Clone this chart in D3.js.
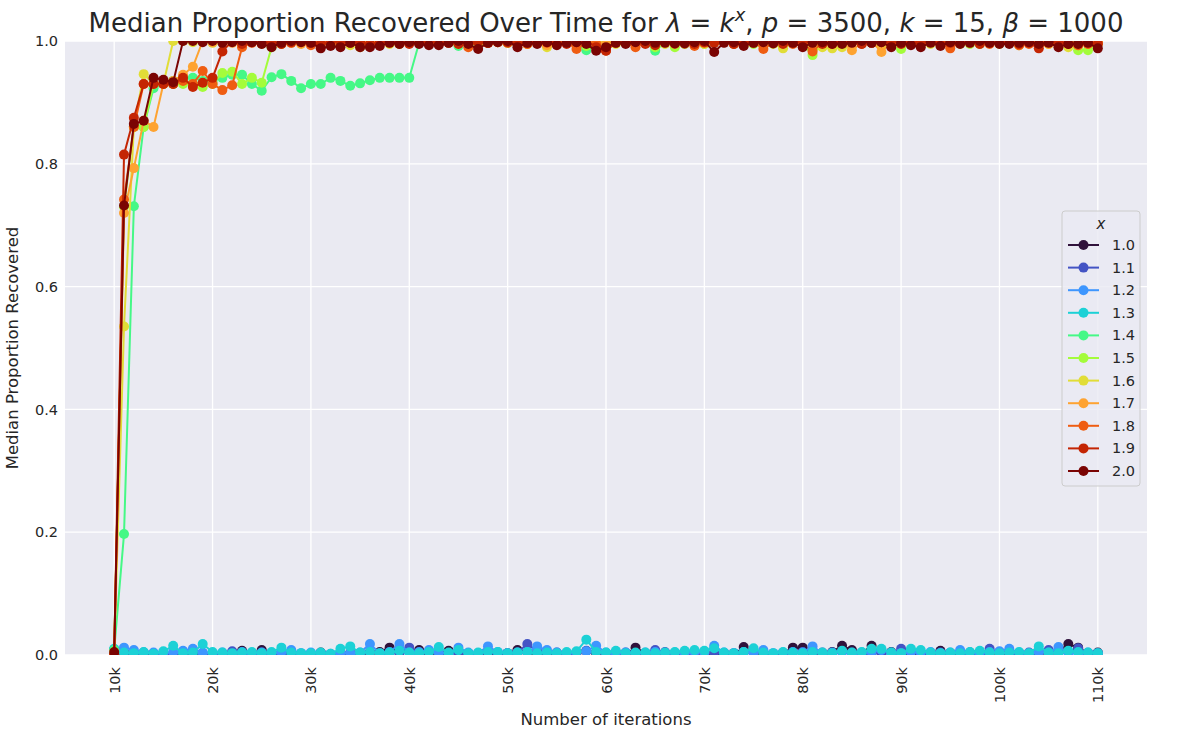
<!DOCTYPE html>
<html>
<head>
<meta charset="utf-8">
<script src="https://cdn.jsdelivr.net/npm/d3@7"></script>
<style>
  body { margin: 0; background: #fff; }
  text { font-family: "DejaVu Sans", sans-serif; fill: #262626; }
</style>
</head>
<body>
<div id="content"></div>
<script>
// iterations 10k..110k, one point every 1k
let iterations = d3.range(10000, 111000, 1000);
let xTicks = [10000, 20000, 30000, 40000, 50000, 60000, 70000, 80000, 90000, 100000, 110000];
let xTickLabels = ["10k", "20k", "30k", "40k", "50k", "60k", "70k", "80k", "90k", "100k", "110k"];
let yTicks = [0, 0.2, 0.4, 0.6, 0.8, 1.0];

let exponents = ["1.0", "1.1", "1.2", "1.3", "1.4", "1.5", "1.6", "1.7", "1.8", "1.9", "2.0"];
let colors = ["#30123b", "#4454c4", "#3e96fe", "#1cd1d6", "#45f886", "#a4fc3b",
              "#e1dd37", "#fea331", "#ef5d12", "#c42503", "#7a0403"];

let s10 = [0.008, 0.004, 0.002, 0.003, 0.000, 0.002, 0.001, 0.003, 0.002, 0.000,
  0.002, 0.001, 0.003, 0.007, 0.003, 0.008, 0.002, 0.004, 0.003, 0.002,
  0.000, 0.004, 0.001, 0.002, 0.003, 0.000, 0.004, 0.005, 0.012, 0.004,
  0.006, 0.008, 0.003, 0.002, 0.007, 0.003, 0.002, 0.001, 0.003, 0.000,
  0.003, 0.008, 0.004, 0.002, 0.000, 0.003, 0.002, 0.004, 0.006, 0.003,
  0.002, 0.004, 0.000, 0.012, 0.003, 0.004, 0.002, 0.000, 0.003, 0.002,
  0.004, 0.002, 0.003, 0.000, 0.013, 0.004, 0.002, 0.000, 0.003, 0.012,
  0.012, 0.003, 0.002, 0.005, 0.015, 0.008, 0.003, 0.015, 0.004, 0.005,
  0.003, 0.002, 0.004, 0.000, 0.007, 0.003, 0.002, 0.004, 0.003, 0.002,
  0.005, 0.002, 0.003, 0.000, 0.004, 0.003, 0.006, 0.018, 0.012, 0.003, 0.004];
let s11 = [0.006, 0.003, 0.002, 0.004, 0.001, 0.003, 0.000, 0.004, 0.002, 0.003,
  0.001, 0.002, 0.006, 0.003, 0.002, 0.004, 0.001, 0.003, 0.002, 0.000,
  0.002, 0.003, 0.000, 0.004, 0.002, 0.003, 0.005, 0.002, 0.003, 0.004,
  0.012, 0.003, 0.004, 0.002, 0.003, 0.004, 0.003, 0.002, 0.004, 0.002,
  0.003, 0.004, 0.018, 0.006, 0.003, 0.004, 0.002, 0.003, 0.007, 0.004,
  0.003, 0.002, 0.004, 0.003, 0.002, 0.008, 0.005, 0.003, 0.002, 0.004,
  0.003, 0.004, 0.002, 0.003, 0.004, 0.005, 0.003, 0.002, 0.003, 0.004,
  0.005, 0.003, 0.004, 0.003, 0.005, 0.004, 0.002, 0.003, 0.004, 0.003,
  0.010, 0.004, 0.003, 0.002, 0.004, 0.003, 0.004, 0.003, 0.002, 0.010,
  0.004, 0.003, 0.002, 0.004, 0.003, 0.008, 0.004, 0.005, 0.011, 0.003, 0.002];
let s12 = [0.009, 0.012, 0.008, 0.004, 0.004, 0.003, 0.005, 0.007, 0.010, 0.004,
  0.003, 0.004, 0.002, 0.005, 0.003, 0.004, 0.003, 0.005, 0.008, 0.003,
  0.004, 0.003, 0.002, 0.004, 0.003, 0.004, 0.018, 0.003, 0.005, 0.018,
  0.004, 0.005, 0.008, 0.004, 0.003, 0.012, 0.004, 0.003, 0.014, 0.005,
  0.003, 0.004, 0.005, 0.014, 0.008, 0.004, 0.003, 0.005, 0.006, 0.015,
  0.004, 0.003, 0.004, 0.003, 0.004, 0.005, 0.003, 0.004, 0.003, 0.005,
  0.004, 0.015, 0.004, 0.003, 0.005, 0.004, 0.008, 0.003, 0.004, 0.005,
  0.004, 0.014, 0.003, 0.004, 0.005, 0.003, 0.004, 0.005, 0.008, 0.004,
  0.003, 0.005, 0.004, 0.005, 0.003, 0.004, 0.008, 0.004, 0.003, 0.005,
  0.006, 0.010, 0.004, 0.003, 0.005, 0.004, 0.013, 0.004, 0.003, 0.004, 0.003];
let s13 = [0.010, 0.004, 0.003, 0.005, 0.002, 0.006, 0.015, 0.003, 0.004, 0.018,
  0.005, 0.004, 0.003, 0.004, 0.005, 0.003, 0.005, 0.012, 0.004, 0.003,
  0.003, 0.004, 0.002, 0.010, 0.014, 0.004, 0.005, 0.003, 0.004, 0.007,
  0.004, 0.003, 0.005, 0.013, 0.004, 0.008, 0.003, 0.004, 0.005, 0.005,
  0.003, 0.004, 0.005, 0.003, 0.004, 0.003, 0.005, 0.006, 0.025, 0.005,
  0.004, 0.007, 0.003, 0.004, 0.004, 0.003, 0.004, 0.005, 0.007, 0.008,
  0.007, 0.011, 0.004, 0.003, 0.005, 0.011, 0.004, 0.003, 0.005, 0.004,
  0.003, 0.005, 0.004, 0.003, 0.007, 0.004, 0.005, 0.010, 0.010, 0.004,
  0.003, 0.010, 0.008, 0.004, 0.003, 0.004, 0.003, 0.005, 0.007, 0.004,
  0.003, 0.004, 0.005, 0.003, 0.014, 0.004, 0.003, 0.007, 0.005, 0.004, 0.003];
let s14 = [0.008, 0.197, 0.731, 0.860, 0.923, 0.930, 0.935, 0.940, 0.940, 0.935,
  0.935, 0.940, 0.945, 0.945, 0.930, 0.919, 0.941, 0.946, 0.935, 0.923,
  0.930, 0.930, 0.940, 0.935, 0.927, 0.931, 0.936, 0.940, 0.940, 0.940,
  0.940, 0.997, 0.998, 1.000, 0.998, 0.992, 0.998, 1.000, 0.998, 1.000,
  0.998, 1.000, 0.998, 0.997, 1.000, 0.998, 0.997, 0.995, 0.985, 0.998,
  1.000, 0.998, 1.000, 0.997, 0.998, 0.984, 0.998, 0.997, 0.995, 0.998,
  0.997, 0.998, 1.000, 0.997, 0.998, 1.000, 0.997, 0.998, 0.997, 0.998,
  1.000, 0.995, 0.998, 0.997, 0.998, 1.000, 0.997, 0.998, 1.000, 0.997,
  0.998, 0.995, 0.998, 1.000, 0.997, 0.998, 1.000, 0.997, 0.995, 0.998,
  1.000, 0.997, 0.998, 1.000, 0.997, 0.998, 0.997, 1.000, 0.998, 0.995, 0.998];
let s15 = [0.005, 0.730, 0.860, 0.860, 0.930, 0.930, 0.930, 0.930, 0.930, 0.925,
  0.930, 0.948, 0.950, 0.930, 0.940, 0.932, 0.990, 0.995, 0.998, 1.000,
  0.997, 0.998, 1.000, 0.995, 0.998, 0.997, 1.000, 0.998, 0.997, 0.995,
  0.998, 1.000, 0.997, 0.998, 1.000, 0.997, 0.998, 0.995, 0.998, 1.000,
  0.997, 0.998, 0.995, 0.998, 1.000, 0.997, 0.998, 0.995, 0.992, 0.998,
  1.000, 0.997, 0.998, 1.000, 0.997, 0.990, 0.998, 0.990, 0.997, 0.998,
  0.995, 0.998, 1.000, 0.997, 0.998, 0.995, 0.998, 0.997, 1.000, 0.998,
  0.995, 0.977, 0.997, 0.998, 0.995, 0.998, 1.000, 0.997, 0.995, 0.998,
  0.987, 0.998, 0.995, 0.998, 1.000, 0.997, 0.998, 0.995, 0.998, 1.000,
  0.997, 0.998, 0.995, 0.997, 1.000, 0.998, 0.997, 0.995, 0.985, 0.985, 0.997];
let s16 = [0.005, 0.535, 0.860, 0.946, 0.930, 0.930, 1.000, 1.000, 0.998, 1.000,
  0.997, 0.998, 1.000, 0.995, 0.998, 1.000, 0.997, 0.998, 1.000, 0.997,
  0.998, 0.995, 0.997, 1.000, 0.993, 0.990, 0.998, 1.000, 0.995, 0.997,
  0.998, 1.000, 0.997, 0.998, 1.000, 0.995, 0.998, 1.000, 0.997, 0.998,
  1.000, 0.995, 0.998, 0.997, 0.990, 0.998, 1.000, 0.995, 0.997, 0.998,
  1.000, 0.995, 0.997, 0.998, 1.000, 0.997, 0.995, 0.998, 1.000, 0.997,
  0.995, 0.998, 1.000, 0.997, 0.993, 0.998, 1.000, 0.995, 0.988, 0.997,
  0.998, 0.995, 0.990, 0.988, 0.990, 0.998, 0.997, 1.000, 0.995, 0.998,
  0.997, 0.998, 1.000, 0.995, 0.998, 0.997, 0.995, 0.998, 1.000, 0.997,
  0.995, 0.998, 0.993, 1.000, 0.997, 0.995, 0.998, 0.990, 0.993, 0.997, 0.995];
let s17 = [0.000, 0.720, 0.793, 0.870, 0.860, 0.930, 0.935, 0.945, 0.958, 1.000,
  0.998, 1.000, 0.997, 0.998, 1.000, 0.995, 0.998, 1.000, 0.997, 0.995,
  0.998, 1.000, 0.997, 0.995, 0.998, 0.997, 1.000, 0.995, 0.998, 1.000,
  0.997, 0.998, 0.995, 1.000, 0.997, 0.998, 0.995, 1.000, 0.997, 0.998,
  1.000, 0.997, 0.995, 0.998, 0.993, 0.995, 0.998, 1.000, 0.997, 0.998,
  0.995, 1.000, 0.997, 0.995, 0.998, 1.000, 0.997, 0.998, 0.995, 0.993,
  1.000, 0.997, 0.998, 0.995, 0.997, 1.000, 0.995, 0.998, 0.997, 1.000,
  0.995, 0.998, 0.997, 0.995, 0.998, 0.985, 0.997, 1.000, 0.982, 0.998,
  0.995, 0.997, 1.000, 0.998, 0.995, 0.997, 1.000, 0.998, 0.995, 0.997,
  1.000, 0.998, 0.995, 0.997, 1.000, 0.995, 0.998, 0.997, 0.993, 0.995, 0.998];
let s18 = [0.000, 0.742, 0.860, 0.930, 0.930, 0.930, 0.930, 0.935, 0.930, 0.951,
  0.930, 0.920, 0.928, 0.990, 0.997, 0.998, 1.000, 0.995, 0.997, 0.998,
  0.993, 0.997, 1.000, 0.995, 0.998, 0.997, 0.995, 1.000, 0.997, 0.995,
  0.998, 1.000, 0.997, 0.995, 0.998, 0.997, 0.990, 1.000, 0.997, 0.998,
  0.997, 1.000, 0.995, 0.998, 0.997, 0.995, 0.998, 0.987, 0.997, 0.995,
  0.984, 0.998, 0.997, 0.990, 0.998, 0.997, 1.000, 0.995, 0.998, 0.992,
  0.997, 1.000, 0.998, 0.995, 0.997, 0.998, 0.987, 0.997, 1.000, 0.995,
  0.997, 0.983, 0.998, 0.995, 0.997, 1.000, 0.995, 0.997, 0.998, 0.995,
  0.997, 1.000, 0.995, 0.998, 0.997, 0.988, 0.998, 0.997, 1.000, 0.995,
  0.997, 0.998, 0.993, 0.995, 0.997, 1.000, 0.995, 0.998, 0.993, 0.995, 0.997];
let s19 = [0.000, 0.815, 0.875, 0.930, 0.930, 0.930, 0.930, 0.940, 0.925, 0.932,
  0.940, 0.983, 1.000, 0.995, 0.998, 1.000, 0.997, 0.995, 0.998, 1.000,
  0.997, 0.995, 0.998, 1.000, 0.997, 0.998, 0.995, 0.997, 1.000, 0.998,
  0.995, 0.997, 1.000, 0.998, 0.997, 0.995, 1.000, 0.998, 0.997, 1.000,
  0.998, 0.995, 0.997, 1.000, 0.998, 0.997, 0.995, 0.998, 1.000, 0.990,
  0.984, 0.997, 0.998, 1.000, 0.995, 0.993, 0.998, 0.997, 1.000, 0.995,
  0.998, 0.997, 1.000, 0.995, 0.998, 0.997, 1.000, 0.998, 0.995, 0.997,
  1.000, 0.998, 0.995, 0.997, 1.000, 0.998, 0.995, 0.997, 0.998, 1.000,
  0.995, 0.997, 0.998, 1.000, 0.995, 0.997, 0.998, 1.000, 0.995, 0.997,
  0.998, 1.000, 0.995, 0.997, 0.988, 0.998, 1.000, 0.995, 0.997, 0.998, 0.995];
let s20 = [0.005, 0.732, 0.865, 0.870, 0.940, 0.937, 0.933, 1.000, 1.000, 0.998,
  1.000, 0.997, 0.998, 1.000, 0.998, 0.995, 0.990, 0.997, 1.000, 0.998,
  0.997, 0.988, 0.992, 0.990, 0.997, 0.990, 0.990, 0.992, 0.997, 0.995,
  0.998, 0.995, 0.993, 0.993, 0.997, 1.000, 0.995, 0.987, 0.997, 0.998,
  1.000, 0.990, 0.997, 0.995, 0.998, 0.993, 0.997, 0.998, 0.995, 0.984,
  0.990, 0.997, 0.995, 0.998, 1.000, 0.997, 0.997, 0.996, 0.996, 0.998,
  1.000, 0.982, 0.997, 0.998, 0.992, 0.997, 0.998, 0.996, 1.000, 0.997,
  0.990, 0.997, 0.998, 0.995, 0.995, 0.997, 1.000, 0.997, 0.998, 0.990,
  0.997, 0.993, 0.990, 0.997, 0.992, 0.998, 0.995, 0.997, 1.000, 0.997,
  0.995, 0.995, 0.997, 0.998, 0.995, 0.997, 0.990, 0.995, 0.995, 0.997, 0.988];

let seriesValues = [s10, s11, s12, s13, s14, s15, s16, s17, s18, s19, s20];

let width = 1177;
let height = 732;
let margin = {top: 41, right: 30, bottom: 77, left: 65};
let plotW = width - margin.left - margin.right;
let plotH = height - margin.top - margin.bottom;

let svg = d3.select("#content").append("svg")
  .attr("width", width)
  .attr("height", height);

let x = d3.scaleLinear().domain([5000, 115000]).range([0, plotW]);
let y = d3.scaleLinear().domain([0, 1]).range([plotH, 0]);

let g = svg.append("g").attr("transform", `translate(${margin.left},${margin.top})`);

g.append("rect")
  .attr("width", plotW).attr("height", plotH)
  .attr("fill", "#eaeaf2");

svg.append("defs").append("clipPath").attr("id", "plot-clip")
  .append("rect").attr("width", plotW).attr("height", plotH);

// grid
g.selectAll(".vgrid").data(xTicks).enter().append("line")
  .attr("x1", d => x(d)).attr("x2", d => x(d))
  .attr("y1", 0).attr("y2", plotH)
  .attr("stroke", "#fff").attr("stroke-width", 1.3);
g.selectAll(".hgrid").data(yTicks).enter().append("line")
  .attr("x1", 0).attr("x2", plotW)
  .attr("y1", d => y(d)).attr("y2", d => y(d))
  .attr("stroke", "#fff").attr("stroke-width", 1.3);

// axes (no spines, no tick marks, like seaborn darkgrid)
let xAxis = g.append("g").attr("transform", `translate(0,${plotH})`)
  .call(d3.axisBottom(x).tickValues(xTicks).tickSize(0).tickFormat((d, i) => xTickLabels[i]));
xAxis.select(".domain").remove();
xAxis.selectAll("text")
  .attr("transform", "rotate(-90)")
  .attr("x", -12).attr("y", 0).attr("dy", "0.35em")
  .style("text-anchor", "end")
  .style("font-size", "14.5px")
  .style("font-family", "DejaVu Sans").attr("fill", "#262626");

let yAxis = g.append("g")
  .call(d3.axisLeft(y).tickValues(yTicks).tickSize(0).tickFormat(d3.format(".1f")));
yAxis.select(".domain").remove();
yAxis.selectAll("text")
  .attr("x", -7)
  .style("font-size", "14.5px")
  .style("font-family", "DejaVu Sans").attr("fill", "#262626");

// lines and markers
let line = d3.line()
  .x((d, i) => x(iterations[i]))
  .y(d => y(d));

let plot = g.append("g").attr("clip-path", "url(#plot-clip)");
seriesValues.forEach(function(vals, k) {
  let sg = plot.append("g");
  sg.append("path")
    .attr("d", line(vals))
    .attr("fill", "none")
    .attr("stroke", colors[k])
    .attr("stroke-width", 2)
    .attr("stroke-linejoin", "round");
  sg.selectAll("circle").data(vals).enter().append("circle")
    .attr("cx", (d, i) => x(iterations[i]))
    .attr("cy", d => y(d))
    .attr("r", 5)
    .attr("fill", colors[k]);
});

// title with math parts
let title = svg.append("text")
  .attr("x", margin.left + plotW / 2)
  .attr("y", 32)
  .attr("text-anchor", "middle")
  .style("font-size", "26px");
let parts = [
  ["Median Proportion Recovered Over Time for ", "normal"],
  ["λ", "italic"], [" = ", "normal"], ["k", "italic"]
];
parts.forEach(p => title.append("tspan").style("font-style", p[1]).text(p[0]));
title.append("tspan").style("font-style", "italic").style("font-size", "18px")
  .attr("dy", -11).text("x");
let parts2 = [
  [", ", "normal"], ["p", "italic"], [" = 3500, ", "normal"],
  ["k", "italic"], [" = 15, ", "normal"], ["β", "italic"], [" = 1000", "normal"]
];
parts2.forEach((p, i) => {
  let t = title.append("tspan").style("font-style", p[1]).text(p[0]);
  if (i === 0) t.attr("dy", 11);
});

// axis labels
svg.append("text")
  .attr("x", margin.left + plotW / 2)
  .attr("y", 725)
  .attr("text-anchor", "middle")
  .style("font-size", "16.5px")
  .text("Number of iterations");

svg.append("text")
  .attr("transform", `translate(18,${margin.top + plotH / 2}) rotate(-90)`)
  .attr("text-anchor", "middle")
  .style("font-size", "16.5px")
  .text("Median Proportion Recovered");

// legend
let legend = svg.append("g").attr("transform", "translate(1062,211)");
legend.append("rect")
  .attr("width", 78).attr("height", 275)
  .attr("rx", 3)
  .attr("fill", "#eaeaf2").attr("fill-opacity", 0.8)
  .attr("stroke", "#cccccc").attr("stroke-width", 1);
legend.append("text")
  .attr("x", 39).attr("y", 18)
  .attr("text-anchor", "middle")
  .style("font-size", "15px").style("font-style", "italic")
  .text("x");
let rows = legend.selectAll(".row").data(exponents).enter().append("g")
  .attr("transform", (d, i) => `translate(0,${34 + i * 22.6})`);
rows.append("line")
  .attr("x1", 6).attr("x2", 37).attr("y1", 0).attr("y2", 0)
  .attr("stroke", (d, i) => colors[i]).attr("stroke-width", 2);
rows.append("circle")
  .attr("cx", 21.5).attr("cy", 0).attr("r", 5)
  .attr("fill", (d, i) => colors[i]);
rows.append("text")
  .attr("x", 50).attr("y", 0).attr("dy", "0.35em")
  .style("font-size", "14.5px")
  .text(d => d);
</script>
</body>
</html>
